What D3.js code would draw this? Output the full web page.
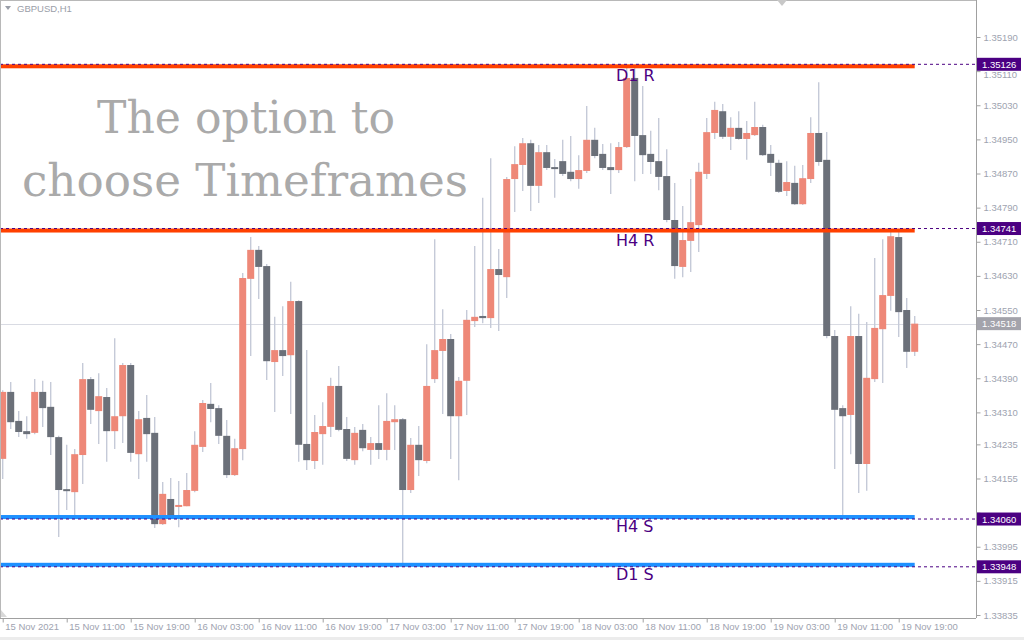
<!DOCTYPE html>
<html><head><meta charset="utf-8">
<script src="https://cdn.jsdelivr.net/npm/d3@7"></script>
<style>html,body{margin:0;padding:0;background:#fff;overflow:hidden}</style>
</head><body>
<svg id="c" width="1024" height="640"></svg>
<script>
const symbolTitle = "GBPUSD,H1";
const opens  = [1.34201,1.34358,1.34290,1.34266,1.34262,1.34358,1.34323,1.34252,1.34130,1.34123,1.34210,1.34388,1.34313,1.34346,1.34266,1.34301,1.34421,1.34212,1.34297,1.34262,1.34048,1.34107,1.34090,1.34090,1.34126,1.34229,1.34330,1.34320,1.34255,1.34163,1.34224,1.34623,1.34691,1.34653,1.34428,1.34456,1.34444,1.34571,1.34236,1.34196,1.34259,1.34276,1.34372,1.34271,1.34198,1.34269,1.34222,1.34238,1.34222,1.34287,1.34294,1.34128,1.34234,1.34196,1.34388,1.34454,1.34482,1.34301,1.34384,1.34524,1.34536,1.34531,1.34646,1.34627,1.34857,1.34890,1.34941,1.34841,1.34920,1.34885,1.34899,1.34874,1.34857,1.34876,1.34949,1.34916,1.34885,1.34878,1.34932,1.35094,1.34960,1.34916,1.34899,1.34864,1.34761,1.34651,1.34712,1.34749,1.34869,1.34965,1.35016,1.34956,1.34977,1.34951,1.34960,1.34979,1.34916,1.34895,1.34829,1.34848,1.34798,1.34857,1.34965,1.34902,1.34489,1.34320,1.34304,1.34489,1.34189,1.34388,1.34505,1.34583,1.34721,1.34550,1.34452];
const highs  = [1.34362,1.34381,1.34313,1.34301,1.34388,1.34384,1.34381,1.34255,1.34234,1.34224,1.34426,1.34393,1.34402,1.34367,1.34484,1.34426,1.34426,1.34313,1.34351,1.34299,1.34147,1.34156,1.34149,1.34168,1.34266,1.34339,1.34379,1.34327,1.34292,1.34248,1.34637,1.34721,1.34700,1.34658,1.34534,1.34559,1.34616,1.34573,1.34456,1.34304,1.34334,1.34391,1.34419,1.34299,1.34276,1.34283,1.34252,1.34327,1.34355,1.34327,1.34297,1.34250,1.34278,1.34470,1.34716,1.34552,1.34494,1.34393,1.34550,1.34700,1.34813,1.34906,1.34693,1.34862,1.34934,1.34953,1.34949,1.34937,1.34937,1.34904,1.34949,1.34958,1.34913,1.35028,1.34977,1.34939,1.34941,1.34944,1.35124,1.35120,1.35075,1.34970,1.35000,1.34927,1.34848,1.34794,1.34857,1.34895,1.35000,1.35038,1.35033,1.35002,1.35016,1.34993,1.35038,1.34984,1.34937,1.34902,1.34899,1.34888,1.34890,1.35002,1.35084,1.34967,1.34503,1.34327,1.34559,1.34541,1.34522,1.34672,1.34716,1.34735,1.34740,1.34578,1.34536];
const lows   = [1.34154,1.34271,1.34252,1.34248,1.34259,1.34276,1.34210,1.34018,1.34081,1.34069,1.34142,1.34283,1.34236,1.34194,1.34224,1.34238,1.34194,1.34154,1.34194,1.34039,1.34046,1.34067,1.34041,1.34090,1.34123,1.34217,1.34287,1.34236,1.34156,1.34161,1.34198,1.34442,1.34576,1.34386,1.34311,1.34395,1.34306,1.34194,1.34175,1.34177,1.34187,1.34252,1.34266,1.34196,1.34187,1.34219,1.34187,1.34201,1.34198,1.34222,1.33950,1.34121,1.34161,1.34191,1.34379,1.34306,1.34201,1.34151,1.34304,1.34510,1.34519,1.34508,1.34501,1.34578,1.34780,1.34829,1.34782,1.34801,1.34878,1.34813,1.34864,1.34852,1.34834,1.34871,1.34906,1.34878,1.34822,1.34871,1.34930,1.34852,1.34869,1.34869,1.34831,1.34756,1.34623,1.34627,1.34639,1.34686,1.34857,1.34951,1.34951,1.34925,1.34949,1.34902,1.34958,1.34911,1.34864,1.34824,1.34817,1.34796,1.34796,1.34848,1.34888,1.34484,1.34177,1.34062,1.34212,1.34121,1.34126,1.34381,1.34379,1.34548,1.34487,1.34414,1.34442];
const closes = [1.34358,1.34287,1.34264,1.34259,1.34358,1.34320,1.34252,1.34128,1.34126,1.34212,1.34388,1.34316,1.34348,1.34266,1.34301,1.34421,1.34215,1.34294,1.34259,1.34048,1.34119,1.34067,1.34093,1.34128,1.34234,1.34332,1.34318,1.34255,1.34163,1.34226,1.34625,1.34691,1.34651,1.34430,1.34456,1.34442,1.34571,1.34234,1.34198,1.34264,1.34278,1.34372,1.34269,1.34201,1.34262,1.34226,1.34238,1.34222,1.34290,1.34294,1.34128,1.34234,1.34198,1.34372,1.34456,1.34482,1.34301,1.34384,1.34527,1.34534,1.34531,1.34646,1.34632,1.34857,1.34892,1.34941,1.34841,1.34920,1.34883,1.34881,1.34869,1.34857,1.34878,1.34949,1.34911,1.34883,1.34878,1.34932,1.35094,1.34958,1.34913,1.34897,1.34862,1.34761,1.34653,1.34714,1.34756,1.34874,1.34967,1.35019,1.34956,1.34977,1.34951,1.34965,1.34979,1.34913,1.34895,1.34827,1.34850,1.34798,1.34859,1.34965,1.34897,1.34489,1.34316,1.34301,1.34489,1.34189,1.34391,1.34508,1.34585,1.34723,1.34545,1.34452,1.34518];
const timeTickIndex = [0,8,16,24,32,40,48,56,64,72,80,88,96,104,112];
const timeTickLabels = ["15 Nov 2021","15 Nov 11:00","15 Nov 19:00","16 Nov 03:00","16 Nov 11:00","16 Nov 19:00","17 Nov 03:00","17 Nov 11:00","17 Nov 19:00","18 Nov 03:00","18 Nov 11:00","18 Nov 19:00","19 Nov 03:00","19 Nov 11:00","19 Nov 19:00"];
const priceTicks = [1.35190,1.35110,1.35030,1.34950,1.34870,1.34790,1.34710,1.34630,1.34550,1.34470,1.34390,1.34310,1.34235,1.34155,1.34075,1.33995,1.33915,1.33835];
const hiddenTickLabels = [1.34075];
const levelNames  = ["D1 R","H4 R","H4 S","D1 S"];
const levelPrices = [1.35126,1.34741,1.34060,1.33948];
const levelKinds  = ["R","R","S","S"];
const bidPrice = 1.34518;
const watermark = ["The option to","choose Timeframes"];

const svg = d3.select("#c");
const W = 1024, H = 640, plotR = 976, plotB = 618;
const x = d3.scaleLinear().domain([0,114]).range([2.7, 914.7]);
const y = d3.scaleLinear().domain([1.33835,1.35190]).range([615,37]);
const candles = opens.map((o,i)=>({i,o,h:highs[i],l:lows[i],c:closes[i]}));
const fmt = d3.format(".5f");

svg.append("rect").attr("width",W).attr("height",H).attr("fill","#fff");
svg.append("rect").attr("x",0).attr("y",637).attr("width",W).attr("height",3).attr("fill","#ececec");

// watermark
const wmTargets = [{w:298,cx:246,by:133},{w:446,cx:245,by:196}];
watermark.forEach((t,k)=>{
  const el = svg.append("text").text(t).attr("x",wmTargets[k].cx).attr("y",wmTargets[k].by)
    .attr("text-anchor","middle").attr("fill","#aaaaaa")
    .style("font-family","'DejaVu Serif'").style("font-size","50px");
  const len = el.node().getComputedTextLength();
  el.style("font-size",(50*wmTargets[k].w/len)+"px");
});

// bid line
svg.append("line").attr("x1",0).attr("x2",plotR).attr("y1",Math.round(y(bidPrice))+0.5).attr("y2",Math.round(y(bidPrice))+0.5)
  .attr("stroke","#d9dbe3").attr("stroke-width",1);

// wicks
svg.append("g").selectAll("line").data(candles).join("line")
  .attr("x1",d=>x(d.i)).attr("x2",d=>x(d.i)).attr("y1",d=>y(d.h)).attr("y2",d=>y(d.l))
  .attr("stroke","#c5cad8").attr("stroke-width",1.4);
// bodies
svg.append("g").selectAll("rect").data(candles).join("rect")
  .attr("x",d=>x(d.i)-3.5).attr("width",7)
  .attr("y",d=>y(Math.max(d.o,d.c)))
  .attr("height",d=>Math.max(2, Math.abs(y(d.o)-y(d.c))))
  .attr("fill",d=>d.c>=d.o?"#ee8878":"#6b7079");

// levels
levelPrices.forEach((p,k)=>{
  const yy = y(p);
  const isR = levelKinds[k]==="R";
  svg.append("rect").attr("x",0).attr("width",x(114)).attr("y",isR?yy:yy-4).attr("height",4)
    .attr("fill",isR?"#ff4000":"#1e90ff");
  svg.append("line").attr("x1",0).attr("x2",plotR).attr("y1",yy).attr("y2",yy)
    .attr("stroke","#4b0082").attr("stroke-width",1).attr("stroke-dasharray","3,3");
  svg.append("text").text(levelNames[k]).attr("x",616).attr("y",yy+(isR?17:13))
    .attr("fill","#4b0082").style("font-family","'DejaVu Sans'").style("font-size","16px");
});

// frame
svg.append("line").attr("x1",0.5).attr("x2",0.5).attr("y1",0).attr("y2",plotB).attr("stroke","#b8b8b8");
svg.append("line").attr("x1",0).attr("x2",plotR).attr("y1",0.5).attr("y2",0.5).attr("stroke","#b8b8b8");

// right axis
const ya = svg.append("g").attr("transform",`translate(${plotR+0.5},0)`)
  .call(d3.axisRight(y).tickValues(priceTicks)
    .tickFormat(d=>hiddenTickLabels.includes(d)?"":fmt(d)).tickSize(4).tickPadding(3));
ya.select(".domain").attr("stroke","#a0a0a0").attr("d",`M0,0V${plotB}`);
ya.selectAll(".tick line").attr("stroke","#a0a0a0");
ya.selectAll(".tick text").attr("fill","#9ea3b0").style("font-family","'Liberation Sans'").style("font-size","9.5px");
// nudge labels that sit just under a price box
ya.selectAll(".tick").filter(d=>levelPrices.some(p=>Math.abs(y(p)-y(d))<10 && y(d)>y(p)))
  .select("text").attr("dy","0.32em").attr("y",3.5);

// bottom axis
const xa = svg.append("g").attr("transform",`translate(0,${plotB+0.5})`)
  .call(d3.axisBottom(x).tickValues(timeTickIndex).tickFormat((d,i)=>timeTickLabels[i]).tickSize(4));
xa.select(".domain").attr("stroke","#a0a0a0").attr("d",`M0,0H${plotR}`);
xa.selectAll(".tick line").attr("stroke","#a0a0a0");
xa.selectAll(".tick text").attr("fill","#9ea3b0").attr("text-anchor","start").attr("x",2).attr("y",5)
  .style("font-family","'Liberation Sans'").style("font-size","9.5px");

// price boxes
function box(p, fill){
  const yy = y(p);
  svg.append("rect").attr("x",plotR+1).attr("y",yy-6.5).attr("width",44).attr("height",13).attr("fill",fill);
  svg.append("text").text(fmt(p)).attr("x",plotR+6).attr("y",yy+3.5).attr("fill","#fff")
    .style("font-family","'Liberation Sans'").style("font-size","9.5px");
}
levelPrices.forEach(p=>box(p,"#4b0082"));
box(bidPrice,"#a3a3ab");

// title
svg.append("path").attr("d","M5,6 L11,6 L8,10 Z").attr("fill","#9a9ea8");
svg.append("text").text(symbolTitle).attr("x",17).attr("y",12).attr("fill","#9a9ea8")
  .style("font-family","'Liberation Sans'").style("font-size","9.5px");
svg.append("path").attr("d","M777,0 L787,0 L782,6 Z").attr("fill","#c8c8c8");
svg.append("path").attr("d","M1,610 L1,617 L7,617 Z").attr("fill","#d8d8d8");
</script>
</body></html>
